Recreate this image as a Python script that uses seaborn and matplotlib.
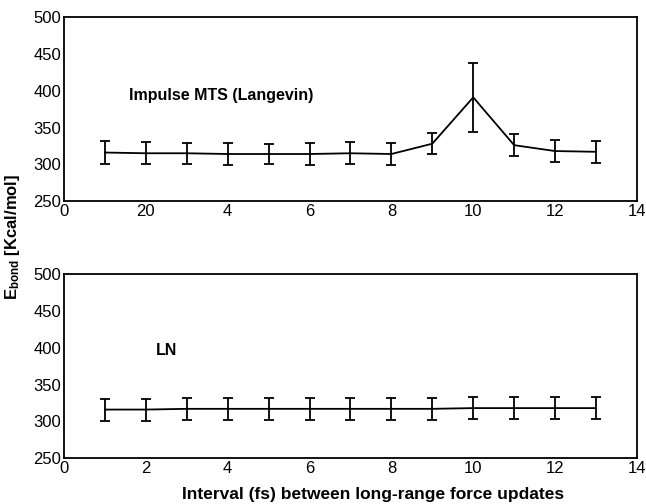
import numpy as np
import pandas as pd
import matplotlib
matplotlib.use("Agg")
import matplotlib.pyplot as plt
import seaborn as sns

# data
interval = [1, 2, 3, 4, 5, 6, 7, 8, 9, 10, 11, 12, 13]
impulse_mean = [316, 315, 315, 314, 314, 314, 315, 314, 328, 391, 326, 318, 317]
impulse_err = [15, 15, 14, 15, 14, 15, 15, 15, 14, 47, 15, 15, 15]
ln_mean = [316, 316, 317, 317, 317, 317, 317, 317, 317, 318, 318, 318, 318]
ln_err = [15, 15, 15, 15, 15, 15, 15, 15, 15, 15, 15, 15, 15]
xtick_pos = [0, 2, 4, 6, 8, 10, 12, 14]
top_xticklabels = ["0", "20", "4", "6", "8", "10", "12", "14"]
bottom_xticklabels = ["0", "2", "4", "6", "8", "10", "12", "14"]
yticks = [250, 300, 350, 400, 450, 500]

sns.set_style("white")
plt.rcParams['font.family'] = ['Liberation Sans', 'DejaVu Sans']
plt.rcParams['mathtext.fontset'] = 'custom'
plt.rcParams['mathtext.bf'] = 'Liberation Sans:bold'
plt.rcParams['mathtext.rm'] = 'Liberation Sans'
plt.rcParams['text.color'] = 'black'
plt.rcParams['xtick.color'] = 'black'
plt.rcParams['ytick.color'] = 'black'
plt.rcParams['axes.labelcolor'] = 'black'

df_top = pd.DataFrame({'x': interval, 'y': impulse_mean, 'err': impulse_err})
df_bot = pd.DataFrame({'x': interval, 'y': ln_mean, 'err': ln_err})

fig = plt.figure(figsize=(6.46, 5.04), dpi=100)
ax1 = fig.add_axes([0.099, 0.601, 0.887, 0.365])
ax2 = fig.add_axes([0.099, 0.091, 0.887, 0.365])

for ax, df, labels, txt, txy in [
        (ax1, df_top, top_xticklabels, "Impulse MTS (Langevin)", (1.6, 394)),
        (ax2, df_bot, bottom_xticklabels, "LN", (2.25, 396))]:
    sns.lineplot(data=df, x='x', y='y', ax=ax, color='black', linewidth=1.3)
    ax.errorbar(df['x'], df['y'], yerr=df['err'], fmt='none', ecolor='black',
                elinewidth=1.3, capsize=3.6, capthick=1.3)
    ax.set_xlim(0, 14)
    ax.set_ylim(250, 500)
    ax.set_xticks(xtick_pos)
    ax.set_xticklabels(labels)
    ax.set_yticks(yticks)
    ax.tick_params(length=0, labelsize=12, pad=2, colors='black')
    ax.set_xlabel('')
    ax.set_ylabel('')
    for s in ax.spines.values():
        s.set_color('black')
        s.set_linewidth(1.3)
    ax.text(txy[0], txy[1], txt, fontsize=11.5, fontweight='bold', va='center',
            color='black')

fig.text(0.02, 0.53, r"$\mathbf{E_{bond}}$ [Kcal/mol]", rotation=90, fontsize=12,
         fontweight='bold', ha='center', va='center', color='black')
fig.text(0.577, 0.018, "Interval (fs) between long-range force updates", fontsize=12.5,
         fontweight='bold', ha='center', va='center', color='black')

plt.savefig("out.png", dpi=100)
